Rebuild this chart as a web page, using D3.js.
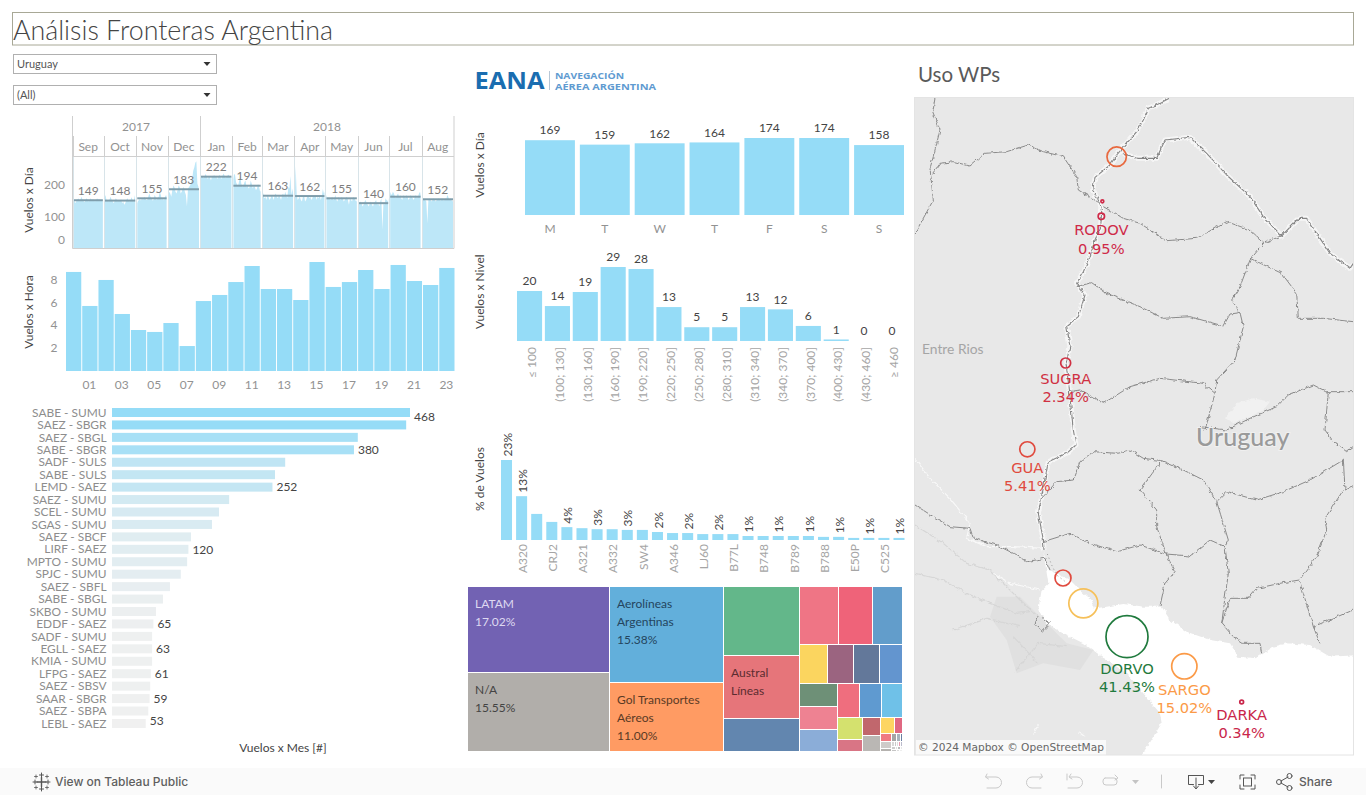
<!DOCTYPE html>
<html><head><meta charset="utf-8">
<script src="https://cdn.jsdelivr.net/npm/d3@7"></script>
<style>
html,body{margin:0;padding:0;background:#fff;overflow:hidden}
svg{display:block}
text{font-family:Lato,"Noto Sans",sans-serif}
</style></head><body><svg id="c" width="1366" height="795"></svg>
<script>
// ---------- DATA ----------
const dailySep=[150,152,140,145,150,155,148,150,160,152,147,143,150,155,150,145,150,155,148,152,150,145,148,155,150,152,148,150,145,152];
const dailyOct=[160,165,150,148,145,152,160,150,145,140,148,155,150,145,150,148,152,140,145,135,140,150,155,148,145,150,158,150,145,165,140];
const dailyNov=[140,145,150,152,148,155,150,160,155,150,150,160,170,160,155,148,150,165,160,150,155,160,175,165,150,155,148,160,165,160];
const dailyDec=[165,175,170,160,180,195,190,175,170,180,195,190,170,175,185,190,175,165,130,185,190,195,205,215,240,250,265,270,200,190,175];
const dailyJan=[225,220,222,218,225,230,222,215,225,220,210,225,222,228,220,225,215,222,228,222,215,225,232,225,218,222,226,228,222,218,225];
const dailyFeb=[215,230,228,205,198,195,210,225,200,190,195,205,210,190,195,185,190,210,200,185,195,190,180,185,200,190,175,180];
const dailyMar=[175,170,155,160,150,165,160,150,155,165,160,150,165,170,160,155,165,160,150,165,170,160,175,165,155,190,185,224,165,185,170];
const dailyApr=[190,255,165,150,155,160,150,145,160,165,145,150,160,165,155,160,150,155,165,160,165,150,160,155,165,150,160,184,170,175];
const dailyMay=[165,160,155,160,150,155,160,150,155,165,150,145,160,155,150,160,155,145,150,155,160,150,135,155,150,145,160,155,150,145,150];
const dailyJun=[135,140,145,140,130,135,145,150,140,135,130,140,145,135,130,140,145,150,135,140,130,145,155,58,140,135,155,150,145,155];
const dailyJul=[175,170,165,175,170,160,155,165,170,160,165,155,150,165,160,155,165,160,150,155,165,160,155,150,160,165,155,160,170,175,165];
const dailyAug=[150,155,150,150,145,78,150,155,150,145,150,155,150,145,150,152,155,150,148,155,150,148,155,150,165,160,150,155,150,145,150];
const dailyByMonth=[dailySep,dailyOct,dailyNov,dailyDec,dailyJan,dailyFeb,dailyMar,dailyApr,dailyMay,dailyJun,dailyJul,dailyAug];
const monthNames=["Sep","Oct","Nov","Dec","Jan","Feb","Mar","Apr","May","Jun","Jul","Aug"];
const monthMeans=[149,148,155,183,222,194,163,162,155,140,160,152];
const dayTicks=[0,100,200];
const hourValues=[8.65,5.68,7.95,4.98,3.58,3.41,4.19,2.18,6.11,6.64,7.77,9.17,7.16,7.16,6.2,9.52,7.34,7.77,8.82,7.16,9.26,7.86,7.51,9.0];
const hourTicks=[2,4,6,8];
const routeNames=["SABE - SUMU","SAEZ - SBGR","SAEZ - SBGL","SABE - SBGR","SADF - SULS","SABE - SULS","LEMD - SAEZ","SAEZ - SUMU","SCEL - SUMU","SGAS - SUMU","SAEZ - SBCF","LIRF - SAEZ","MPTO - SUMU","SPJC - SUMU","SAEZ - SBFL","SABE - SBGL","SKBO - SUMU","EDDF - SAEZ","SADF - SUMU","EGLL - SAEZ","KMIA - SUMU","LFPG - SAEZ","SAEZ - SBSV","SAAR - SBGR","SAEZ - SBPA","LEBL - SAEZ"];
const routeValues=[468,462,386,380,272,256,252,184,168,157,124,120,118,108,91,80,69,65,63,63,63,61,60,59,57,53];
const routeLabelled=["SABE - SUMU","SABE - SBGR","LEMD - SAEZ","LIRF - SAEZ","EDDF - SAEZ","EGLL - SAEZ","LFPG - SAEZ","SAAR - SBGR","LEBL - SAEZ"];
const weekdayLetters=["M","T","W","T","F","S","S"];
const weekdayValues=[169,159,162,164,174,174,158];
const levelNames=["≤ 100","(100; 130]","(130; 160]","(160; 190]","(190; 220]","(220; 250]","(250; 280]","(280; 310]","(310; 340]","(340; 370]","(370; 400]","(400; 430]","(430; 460]","≥ 460"];
const levelValues=[19.6,13.7,19.2,29,28.2,13.3,5.4,5.4,13.3,12.4,5.9,0.6,0,0];
const aircraftTicks=[null,"A320",null,"CRJ2",null,"A321",null,"A332",null,"SW4",null,"A346",null,"LJ60",null,"B77L",null,"B748",null,"B789",null,"B788",null,"E50P",null,"C525",null];
const aircraftShare=[23,12.6,7.5,5.2,3.7,3.4,3.1,3.1,2.9,2.9,2.3,2.0,2.0,1.7,1.7,1.7,1.15,1.15,1.15,1.15,1.15,0.9,0.9,0.6,0.6,0.6,0.6];
const aircraftLabelled=[0,1,4,6,8,10,12,14,16,18,20,22,24,26];
const airlineShares=[[17.02,15.55],[15.38,11.00],[7.2,6.6,3.5],
 [[3.2,2.75,2.45],[1.48,1.43,1.38,1.21],
  [[1.22,1.22,1.16],
   [[1.09,1.04,0.99],
    [[0.78,0.45],[0.44,0.41],
     [[0.31,0.17],
      [[0.13,0.10,0.05],
       [[0.06,0.04,0.025],[0.018,0.016,0.014,0.012,0.012],[0.014,0.012,0.01,0.01],[0.012,0.01,0.008]]]]]]]]];
const airlineColors=["#7262b3","#b1aeaa","#62afdb","#ff9b63","#63b78a","#e6757a","#6286af","#ef7585","#ef6379","#629dcb","#fbd55f","#9b6480","#63789a","#6395cf","#6e9077","#ee8292","#8badd8","#ef6e7e","#5f9ad0","#6fc1e8","#d4e16e","#d97585","#c1676d","#bab7b4","#fdd562","#e06882","#ef7a82","#cfcbc9","#b5b2af","#a5a5a5","#a9b2bc","#6a7fa0","#d8d8d8","#c8c8c8","#dddddd","#e89ab0","#bbbbcc","#cccccc","#dddddd","#bbbbbb","#e7e7e7","#c5c5c5","#dddddd","#eeeeee"];
const airlineLabels=[["LATAM","17.02%"],["N/A","15.55%"],["Aerolíneas","Argentinas","15.38%"],["Gol Transportes","Aéreos","11.00%"],null,["Austral","Líneas"]];
const airlineLabelColors=["#ded9f1","#444444","#24455e","#5a3a25",null,"#5b2c30"];
// waypoints: map position in map units, share of flights
const wpNames=["","RODOV","","SUGRA","GUA","","","DORVO","SARGO","DARKA"];
const wpShare=[8.85,0.95,0.2,2.34,5.41,6.0,19.8,41.43,15.02,0.34];
const wpU=[620,574,577,467,352,459,520,651,823,995];
const wpV=[200,379,334,819,1078,1464,1540,1640,1729,1836];
const wpColors=["#e8693f","#cf2a48","#cf2a48","#d03042","#e04a3e","#e04a3e","#f6c05a","#1f7a3d","#fb9a47","#c9264a"];
// basemap polylines, map units (one unit = a third of a screen pixel)
const mapWater=[[400,1385],[415,1440],[480,1470],[510,1500],[545,1530],[555,1555],[590,1550],[640,1542],[700,1550],[755,1550],[780,1590],[830,1625],[900,1650],[960,1660],[985,1700],[1040,1705],[1090,1670],[1130,1660],[1200,1665],[1260,1700],[1345,1695],[1345,2020],[680,2020],[755,1900],[750,1870],[700,1810],[650,1750],[590,1710],[520,1660],[450,1625],[410,1600],[385,1560],[395,1500],[415,1480]];
const mapUrban=[[260,1520],[330,1520],[390,1580],[470,1660],[550,1680],[510,1740],[400,1720],[320,1750],[290,1650],[240,1580]];
const mapPale=[[945,985],[980,940],[1030,925],[1080,935],[1060,960],[1010,985],[970,1000]];
const mapRivers=[
 [[778,25],[745,42],[715,55],[700,90],[680,125],[650,160],[620,195],[600,225],[555,262],[548,300],[570,340],[575,365],[572,410],[555,450],[540,500],[520,545],[500,580],[525,615],[505,680],[470,708],[480,770],[468,820],[478,900],[490,1020],[498,1065],[470,1090],[415,1115],[395,1220],[385,1270],[400,1350],[402,1380]],
 [[640,190],[680,205],[740,205],[765,150],[840,142],[890,190],[950,255],[1020,320],[1060,380],[1115,438],[1165,385],[1190,385],[1260,490],[1320,535],[1330,520]]];
const mapBorders=[
 [[75,25],[68,65],[90,120],[70,200],[60,235],[70,330],[15,430]],
 [[68,250],[90,220],[130,215],[180,228],[225,190],[290,185],[355,165],[400,185],[460,200],[500,260],[505,300],[570,340]],
 [[580,350],[640,385],[690,400],[770,452],[860,445],[950,395],[1020,420],[1062,458],[1115,438]],
 [[1062,458],[1020,510],[990,590],[965,630],[990,668],[1000,710],[975,810],[920,870],[915,910],[885,1020]],
 [[1020,505],[1115,550],[1160,610],[1165,685],[1240,685],[1330,695]],
 [[500,590],[545,578],[590,610],[690,650],[760,685],[840,680],[940,708],[960,672],[990,668]],
 [[478,905],[510,900],[580,940],[660,890],[750,865],[880,880],[915,910]],
 [[870,1010],[950,1020],[1020,985],[1100,950],[1135,915],[1210,885],[1250,905],[1330,905]],
 [[1255,905],[1245,1020],[1270,1055],[1310,1085],[1330,1070]],
 [[395,1225],[440,1175],[490,1170],[510,1115],[550,1085],[620,1090],[660,1080],[700,1105],[755,1112]],
 [[755,1112],[690,1200],[740,1260],[740,1310],[768,1390]],
 [[755,1112],[820,1140],[880,1170],[920,1235],[950,1205],[1040,1230],[1120,1205],[1200,1170],[1300,1110]],
 [[920,1235],[955,1350],[945,1370],[955,1450],[935,1600],[970,1640]],
 [[400,1355],[480,1330],[540,1360],[620,1385],[690,1365],[768,1392],[840,1398],[900,1350],[945,1370]],
 [[768,1392],[795,1445],[765,1480],[750,1548]],
 [[1300,1110],[1305,1200],[1330,1190]],
 [[1300,1200],[1245,1285],[1250,1320],[1220,1400],[1168,1470],[1120,1478],[1040,1495],[1015,1525],[960,1525],[935,1600]],
 [[1168,1470],[1210,1610],[1330,1560]],
 [[1210,1610],[1230,1660]],
 [[970,1640],[1000,1660],[1050,1660],[1055,1690]],
 [[15,1245],[70,1280],[120,1310],[180,1315],[190,1345],[260,1365],[310,1390],[350,1415],[405,1405],[420,1440]],
 [[385,1580],[375,1600],[395,1625],[420,1600],[395,1582]]];
const mapEstuaryDots=[[412,1392],[425,1425],[440,1455],[470,1478]];
const mapPaleRivers=[
 [[15,1105],[60,1165],[120,1225],[180,1300],[170,1345],[230,1370],[310,1370],[400,1375]],
 [[250,1450],[300,1480],[390,1500]],
 [[370,1930],[385,1905]],[[505,1925],[525,1940]]];
const mapRoads=[
 [[15,1305],[100,1360],[170,1420],[240,1440],[330,1530],[385,1580]],
 [[15,1450],[100,1470],[170,1510],[240,1540],[320,1570],[360,1565]],
 [[130,1620],[230,1585],[330,1610]],
 [[310,1640],[385,1720]],
 [[315,1745],[385,1660],[470,1670]]];

// ---------- HELPERS ----------
const svg=d3.select("#c");
const GREY="#929292", DARK="#444";
function T(x,y,s,o={}){
  return svg.append("text").attr("x",x).attr("y",y).attr("dy","0.35em").text(s)
   .attr("font-size",o.size||12).attr("fill",o.fill||GREY)
   .attr("text-anchor",o.anchor||"middle")
   .attr("font-weight",o.weight||400)
   .attr("style",o.font?`font-family:${o.font}`:null);
}
function V(x,y,s,o={}){
  return svg.append("text").attr("transform",`translate(${x},${y}) rotate(-90)`).attr("dy","0.35em").text(s)
   .attr("font-size",o.size||12).attr("fill",o.fill||GREY).attr("text-anchor",o.anchor||"middle");
}
const BAR="#95dcf7";

// ---------- HEADER ----------
svg.append("rect").attr("x",12.5).attr("y",12.5).attr("width",1341).attr("height",32.5).attr("fill","none").attr("stroke","#a8a896");
svg.append("text").attr("x",13).attr("y",39.5).text("Análisis Fronteras Argentina").attr("font-size",26.8).attr("font-weight",300).attr("fill","#444");
[["Uruguay",54.5],["(All)",85.5]].forEach(([s,y])=>{
  svg.append("rect").attr("x",13.5).attr("y",y).attr("width",203).attr("height",19).attr("fill","#fff").attr("stroke","#b0b0b0");
  T(17,y+9.5,s,{anchor:"start",size:11,fill:"#555"});
  svg.append("path").attr("d",`M203.5 ${y+7.5}h7l-3.5 4z`).attr("fill","#333");
});

// ---------- DAILY ----------
{
 const x=d3.scaleTime().domain([new Date(2017,8,1),new Date(2018,8,1)]).range([72.5,454]);
 const y=d3.scaleLinear().domain([0,285]).range([248.4,156.3]);
 const mStart=monthNames.map((_,i)=>new Date(2017,8+i,1));
 const mEnd=monthNames.map((_,i)=>new Date(2017,9+i,1));
 const area=d3.area().x(d=>d[0]).y0(y(0)).y1(d=>y(d[1]));
 dailyByMonth.forEach((vals,i)=>{
   const pts=[];
   vals.forEach((v,k)=>{
     const d0=d3.timeDay.offset(mStart[i],k), d1=d3.timeDay.offset(mStart[i],k+1);
     const a=k==0?x(d0)+1:x(d0), b=k==vals.length-1?x(d1)-1:x(d1);
     pts.push([(a+b)/2,v]);
     if(k==0)pts.unshift([a,v]);
     if(k==vals.length-1)pts.push([b,v]);
   });
   svg.append("path").attr("d",area(pts)).attr("fill","#bde7f8");
   // mean line + label
   svg.append("line").attr("x1",x(mStart[i])+1).attr("x2",x(mEnd[i])-1).attr("y1",y(monthMeans[i])).attr("y2",y(monthMeans[i])).attr("stroke","#7f9eac").attr("stroke-width",2);
   T((x(mStart[i])+x(mEnd[i]))/2,y(monthMeans[i])-9.5,monthMeans[i],{fill:"#7d7d7d"});
   T((x(mStart[i])+x(mEnd[i]))/2,146.7,monthNames[i]);
 });
 const gc="#cfcfcf";
 const ln=(x1,y1,x2,y2,c=gc)=>svg.append("line").attr("x1",x1).attr("x2",x2).attr("y1",y1).attr("y2",y2).attr("stroke",c);
 mStart.forEach(d=>{const px=Math.round(x(d))+.5;ln(px,136,px,156);ln(px,156,px,248.5,"#d8e4e9");});
 ln(72.5,116,72.5,248.5);ln(454,116,454,248.5);ln(200.5,116,200.5,136);ln(72.5,156.5,454,156.5);ln(72.5,248.5,454,248.5);
 T(136,126.7,"2017");T(327,126.7,"2018");
 dayTicks.forEach(t=>T(65,t==0?240:y(t)+1,t,{anchor:"end"}));
 V(29,200,"Vuelos x Día",{fill:DARK});
}
// ---------- HOURS ----------
{
 const x=d3.scaleBand().domain(d3.range(24)).range([66,454.5]).paddingInner(0.06).paddingOuter(0);
 const y=d3.scaleLinear().domain([0,10]).range([371,256.5]);
 svg.append("g").selectAll("rect").data(hourValues).join("rect").attr("x",(d,i)=>x(i)).attr("width",x.bandwidth()).attr("y",d=>y(d)).attr("height",d=>y(0)-y(d)).attr("fill",BAR);
 hourTicks.forEach(t=>T(57.5,y(t),t,{anchor:"end"}));
 hourValues.forEach((d,i)=>{if(i%2)T(x(i)+x.bandwidth()/2-.5,385,d3.format("02")(i));});
 V(29,312,"Vuelos x Hora",{fill:DARK});
}
// ---------- ROUTES ----------
{
 const y=d3.scaleBand().domain(routeNames).range([404.55,731.4]).paddingInner(0.277).paddingOuter(0.277);
 const x=d3.scaleLinear().domain([0,468]).range([112,410]);
 const col=d3.scaleLinear().domain([53,468]).range(["#f0f0f0",BAR]);
 svg.append("g").selectAll("rect").data(routeValues).join("rect").attr("x",x(0)).attr("y",(d,i)=>y(routeNames[i])).attr("height",y.bandwidth()).attr("width",d=>x(d)-x(0)).attr("fill",d=>col(d));
 routeNames.forEach((n,i)=>{
   const cy=y(n)+y.bandwidth()/2;
   T(106.5,cy,n,{anchor:"end",fill:"#8d8d8d",size:11.9});
   if(routeLabelled.includes(n)) T(x(routeValues[i])+4,Math.min(720.7,Math.max(417,cy)),routeValues[i],{anchor:"start",fill:DARK});
 });
 T(283,747.7,"Vuelos x Mes [#]",{fill:DARK});
}
// ---------- LOGO ----------
svg.append("text").attr("x",474.5).attr("y",89).text("EANA").attr("font-size",24).attr("font-weight",700).attr("fill","#1a6db0").attr("style","font-family:'Open Sans'").attr("textLength",70).attr("lengthAdjust","spacingAndGlyphs");
svg.append("line").attr("x1",549.5).attr("x2",549.5).attr("y1",71).attr("y2",90).attr("stroke","#b7c7d6");
svg.append("text").attr("x",555).attr("y",78.5).text("NAVEGACIÓN").attr("font-size",9).attr("font-weight",700).attr("fill","#5f9bd1").attr("style","font-family:'Open Sans'").attr("textLength",69).attr("lengthAdjust","spacingAndGlyphs");
svg.append("text").attr("x",555).attr("y",89.5).text("AÉREA ARGENTINA").attr("font-size",9).attr("font-weight",700).attr("fill","#5f9bd1").attr("style","font-family:'Open Sans'").attr("textLength",101).attr("lengthAdjust","spacingAndGlyphs");
// ---------- WEEKDAY ----------
{
 const x=d3.scaleBand().domain(d3.range(7)).range([525,904]).paddingInner(0.09).paddingOuter(0);
 const y=d3.scaleLinear().domain([0,174]).range([215,138]);
 svg.append("g").selectAll("rect").data(weekdayValues).join("rect").attr("x",(d,i)=>x(i)).attr("width",x.bandwidth()).attr("y",d=>y(d)).attr("height",d=>y(0)-y(d)).attr("fill",BAR);
 weekdayValues.forEach((d,i)=>{
   const cx=x(i)+x.bandwidth()/2;
   T(cx,y(d)-10,d,{fill:DARK});
   T(cx,228.7,weekdayLetters[i]);
 });
 V(480,165,"Vuelos x Día",{fill:DARK});
}
// ---------- LEVEL ----------
{
 const x=d3.scaleBand().domain(levelNames).range([517,904.5]).paddingInner(0.1).paddingOuter(0);
 const y=d3.scaleLinear().domain([0,29]).range([341,267]);
 svg.append("g").selectAll("rect").data(levelValues).join("rect").attr("x",(d,i)=>x(levelNames[i])).attr("width",x.bandwidth()).attr("y",d=>y(d)).attr("height",d=>y(0)-y(d)).attr("fill",BAR);
 levelValues.forEach((d,i)=>{
   const cx=x(levelNames[i])+x.bandwidth()/2;
   T(cx,y(d)-10,d3.format(".0f")(d),{fill:DARK});
   V(cx+2,347,levelNames[i],{anchor:"end",fill:"#a5a5a5"});
 });
 V(480,291.7,"Vuelos x Nivel",{fill:DARK});
}
// ---------- AIRCRAFT ----------
{
 const x=d3.scaleBand().domain(d3.range(27)).range([501,904.5]).paddingInner(0.27).paddingOuter(0);
 const y=d3.scaleLinear().domain([0,23]).range([540,460]);
 svg.append("g").selectAll("rect").data(aircraftShare).join("rect").attr("x",(d,i)=>x(i)).attr("width",x.bandwidth()).attr("y",d=>y(d)).attr("height",d=>y(0)-y(d)).attr("fill",BAR);
 aircraftLabelled.forEach(i=>V(x(i)+x.bandwidth()/2+1,y(aircraftShare[i])-3.5,d3.format(".0f")(aircraftShare[i])+"%",{anchor:"start",fill:DARK}));
 aircraftTicks.forEach((n,i)=>{if(n)V(x(i)+x.bandwidth()/2+1,544,n,{anchor:"end",fill:"#a5a5a5"});});
 V(480,479,"% de Vuelos",{fill:DARK});
}
// ---------- TREEMAP ----------
{
 const root=d3.hierarchy(airlineShares,d=>Array.isArray(d)?d:null).sum(d=>Array.isArray(d)?0:d);
 d3.treemap().tile(d3.treemapSliceDice).size([435,165]).round(true)(root);
 const g=svg.append("g").attr("transform","translate(468,587)");
 const leaves=root.leaves();
 g.selectAll("rect").data(leaves).join("rect").attr("x",d=>d.x0).attr("y",d=>d.y0)
  .attr("width",d=>Math.max(d.x1-d.x0-1,0.5)).attr("height",d=>Math.max(d.y1-d.y0-1,0.5))
  .attr("fill",(d,i)=>airlineColors[i]);
 leaves.forEach((d,i)=>{
   const lines=airlineLabels[i]; if(!lines)return;
   lines.forEach((s,k)=>T(468+d.x0+7,587+d.y0+17+k*18,s,{anchor:"start",fill:airlineLabelColors[i]}));
 });
}
// ---------- MAP ----------
{
 const mx=d3.scaleLinear().domain([0,1368]).range([910,1366]);
 const my=d3.scaleLinear().domain([0,2100]).range([90,790]);
 const line=d3.line().x(d=>mx(d[0])).y(d=>my(d[1]));
 const defs=svg.append("defs");
 defs.append("clipPath").attr("id","mc").append("rect").attr("x",914.5).attr("y",97.5).attr("width",439).attr("height",657.5);
 const f=defs.append("filter").attr("id","rough").attr("filterUnits","userSpaceOnUse").attr("x",900).attr("y",85).attr("width",470).attr("height",690).attr("color-interpolation-filters","sRGB");
 f.append("feTurbulence").attr("type","fractalNoise").attr("baseFrequency",0.22).attr("numOctaves",2).attr("seed",4).attr("result","n");
 f.append("feDisplacementMap").attr("in","SourceGraphic").attr("in2","n").attr("scale",4).attr("xChannelSelector","R").attr("yChannelSelector","G");
 svg.append("rect").attr("x",914.5).attr("y",97.5).attr("width",439).attr("height",657.5).attr("fill","#e8e8e8");
 const g=svg.append("g").attr("clip-path","url(#mc)");
 const P=(data,stroke,w)=>g.append("g").attr("filter","url(#rough)").selectAll("path").data(data).join("path").attr("d",line).attr("fill","none").attr("stroke",stroke).attr("stroke-width",w).attr("stroke-linejoin","round");
 g.append("path").attr("d",line(mapUrban)+"Z").attr("fill","#e0e0e0");
 g.append("path").attr("d",line(mapPale)+"Z").attr("fill","#f1f1f1").attr("filter","url(#rough)");
 P(mapRoads,"#d6d6d6",1.2);
 P(mapPaleRivers,"#f8f8f8",1.2);
 P(mapRivers,"#f6f6f6",5);
 g.append("path").attr("d",line(mapWater)+"Z").attr("fill","#fff").attr("filter","url(#rough)");
 P(mapBorders,"#7f7f7f",0.9);
 P(mapRivers,"#858585",1.1);
 g.append("path").attr("d",line(mapEstuaryDots)).attr("fill","none").attr("stroke","#9a9a9a").attr("stroke-dasharray","1 3");
 g.append("text").attr("x",922).attr("y",349).attr("dy","0.35em").text("Entre Rios").attr("font-size",13.8).attr("fill","#a5a5a5");
 g.append("text").attr("x",1196).attr("y",437).attr("dy","0.35em").text("Uruguay").attr("font-size",25).attr("font-weight",500).attr("fill","#9a9a9a").attr("stroke","#f0f0f0").attr("stroke-width",2).attr("paint-order","stroke");
 const r=d3.scaleSqrt().domain([0,41.43]).range([0,21]);
 g.append("g").selectAll("circle").data(wpShare).join("circle").attr("cx",(d,i)=>mx(wpU[i])).attr("cy",(d,i)=>my(wpV[i])).attr("r",d=>r(d)).attr("fill","none").attr("stroke",(d,i)=>wpColors[i]).attr("stroke-width",1.7);
 wpNames.forEach((n,i)=>{
   if(!n)return;
   const cx=mx(wpU[i]), base=my(wpV[i])+r(wpShare[i])+10.7;
   const ff="'DejaVu Sans'";
   T(cx,base,n,{size:14.67,fill:wpColors[i],font:ff});
   T(cx,base+18.2,d3.format(".2f")(wpShare[i])+"%",{size:14.67,fill:wpColors[i],font:ff});
 });
 g.append("rect").attr("x",916).attr("y",740).attr("width",190).attr("height",15).attr("fill","#fff").attr("fill-opacity",.75);
 g.append("text").attr("x",918).attr("y",747.5).attr("dy","0.35em").text("© 2024 Mapbox  © OpenStreetMap").attr("font-size",10.6).attr("fill","#666").attr("style","font-family:'DejaVu Sans'");
 svg.append("rect").attr("x",914.5).attr("y",97.5).attr("width",439).attr("height",657.5).attr("fill","none").attr("stroke","#e4e4e4");
 svg.append("text").attr("x",918).attr("y",75).attr("dy","0.35em").text("Uso WPs").attr("font-size",20.5).attr("fill","#5a5a5a");
}
// ---------- TOOLBAR ----------
{
 svg.append("rect").attr("x",0).attr("y",768).attr("width",1366).attr("height",27).attr("fill","#fafafa");
 const g=svg.append("g").attr("fill","none").attr("stroke-linecap","round");
 const cross=(x,y,s,w)=>g.append("path").attr("d",`M${x-s} ${y}h${2*s}M${x} ${y-s}v${2*s}`).attr("stroke","#555").attr("stroke-width",w);
 cross(41.5,782,4.5,1.4);cross(41.5,775,2,1);cross(41.5,789,2,1);cross(35,782,2,1);cross(48,782,2,1);cross(36,776.5,1.5,.8);cross(47,776.5,1.5,.8);cross(36,787.5,1.5,.8);cross(47,787.5,1.5,.8);
 T(55,782,"View on Tableau Public",{anchor:"start",size:12,fill:"#5f5f5f",weight:500,font:"Inter"});
 const L="#c9c9c9",D="#555";
 g.append("path").attr("d","M987 774l-1.500 3 3 2M986 777h10a5.500 5.500 0 0 1 0 11h-9").attr("stroke",L);
 g.append("path").attr("d","M1041 774l1.500 3-3 2M1042 777h-10a5.500 5.500 0 0 0 0 11h9").attr("stroke",L);
 g.append("path").attr("d","M1067 774v6M1071 774l-2 3 3 2M1070 777h7a5.500 5.500 0 0 1 0 11h-9").attr("stroke",L);
 g.append("path").attr("d","M1105 778h9a3 3 0 0 1 3 3v1a3 3 0 0 1-3 3h-8a3 3 0 0 1-3-3v-1a3 3 0 0 1 2-3M1115 775l3 3-3 2").attr("stroke",L);
 svg.append("path").attr("d","M1132 780h7l-3.500 4z").attr("fill","#c4c4c4");
 g.append("line").attr("x1",1161.500).attr("x2",1161.500).attr("y1",775).attr("y2",788).attr("stroke","#c9c9c9");
 g.append("path").attr("d","M1188.500 775.500h15v9h-5M1193.500 784.500h-5v-9M1196 778v10M1193.500 786l2.500 3 2.500-3").attr("stroke",D);
 svg.append("path").attr("d","M1208 780h7l-3.500 4z").attr("fill","#444");
 g.append("path").attr("d","M1240 779v-4h4M1251 775h4v4M1255 785v4h-4M1244 789h-4v-4").attr("stroke",D);
 g.append("rect").attr("x",1243.500).attr("y",778).attr("width",8).attr("height",8).attr("stroke",D);
 g.append("path").attr("d","M1281 781l7-4M1281 783l7 4").attr("stroke",D);
 [[1279,782],[1289.500,776],[1289.500,788]].forEach(c=>g.append("circle").attr("cx",c[0]).attr("cy",c[1]).attr("r",2.500).attr("stroke",D));
 T(1299,782,"Share",{anchor:"start",size:12,fill:"#5f5f5f",weight:500,font:"Inter"});
}
</script></body></html>
